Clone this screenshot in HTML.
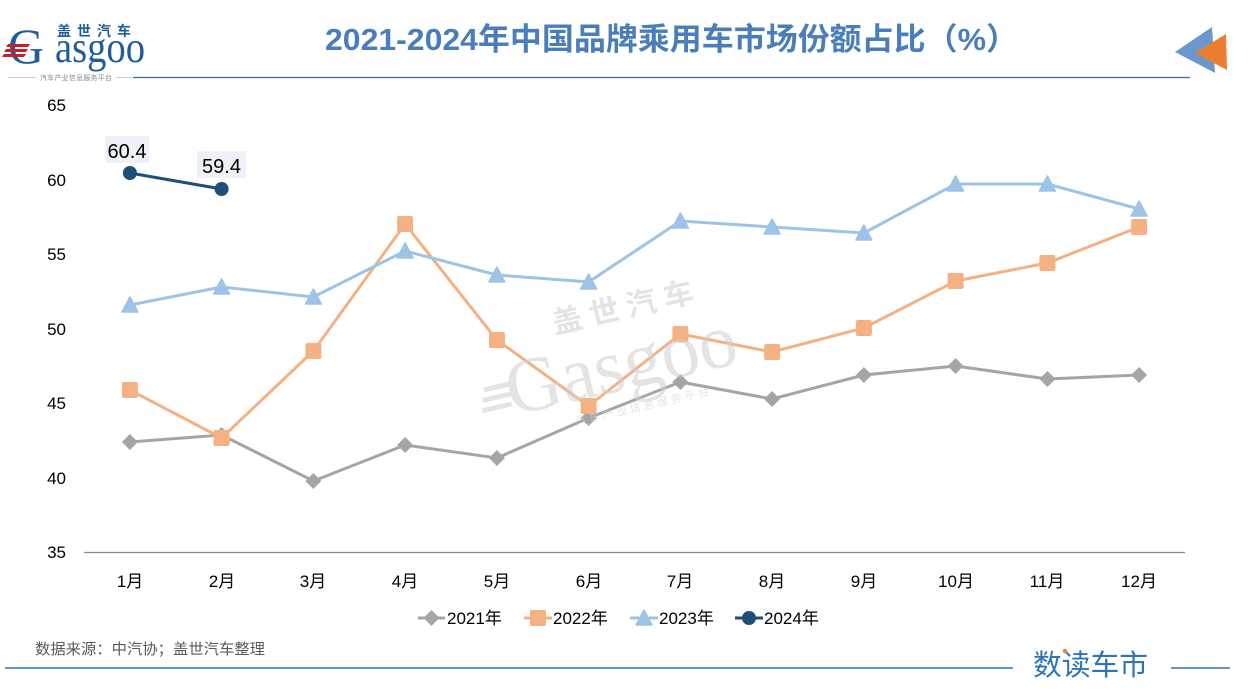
<!DOCTYPE html>
<html><head><meta charset="utf-8"><style>
html,body{margin:0;padding:0;background:#fff;}
svg{display:block;font-family:"Liberation Sans","Noto Sans CJK SC",sans-serif;}
</style></head><body>
<svg width="1260" height="700" viewBox="0 0 1260 700" xmlns="http://www.w3.org/2000/svg">
<!-- header logo -->
<g>
<text x="8" y="63" font-family="Liberation Serif, serif" font-size="50" fill="#1F5C99">G</text>
<polygon points="8,44 30,44 28,47 6,47" fill="#C8202A"/>
<polygon points="6,49 28,49 26,52 4,52" fill="#C8202A"/>
<polygon points="4,54 26,54 24,57 2,57" fill="#C8202A"/>
<text x="55" y="62" font-family="Liberation Serif, serif" font-size="44" fill="#1F5C99" textLength="90" lengthAdjust="spacingAndGlyphs">asgoo</text>
<text x="57" y="36" font-size="14" font-weight="bold" fill="#1F5C99" letter-spacing="6">盖世汽车</text>
<line x1="8" y1="77.5" x2="36" y2="77.5" stroke="#ccc" stroke-width="1"/>
<text x="40" y="80" font-size="7" fill="#888" textLength="72">汽车产业信息服务平台</text>
<line x1="116" y1="77.5" x2="132" y2="77.5" stroke="#ccc" stroke-width="1"/>
<line x1="133" y1="77.5" x2="1190" y2="77.5" stroke="#3A6EA5" stroke-width="1.3"/>
</g>
<!-- title -->
<text x="325" y="50" font-size="31" font-weight="bold" fill="#4A7EBB" textLength="693" lengthAdjust="spacingAndGlyphs">2021-2024年中国品牌乘用车市场份额占比（%）</text>
<!-- top right triangles -->
<polygon points="1175,52 1212,27 1215,73" fill="#6A98CC"/>
<polygon points="1195,53 1226,34 1227,70" fill="#ED7D31"/>

<!-- y axis labels -->
<g font-size="17" fill="#000" text-anchor="end">
<text x="66" y="111">65</text>
<text x="66" y="186">60</text>
<text x="66" y="260">55</text>
<text x="66" y="335">50</text>
<text x="66" y="409">45</text>
<text x="66" y="484">40</text>
<text x="66" y="558">35</text>
</g>
<line x1="84" y1="552.5" x2="1185" y2="552.5" stroke="#8C8C8C" stroke-width="1.2"/>
<!-- x labels -->
<g font-size="17" fill="#000" text-anchor="middle">
<text x="130" y="587">1月</text>
<text x="222" y="587">2月</text>
<text x="313" y="587">3月</text>
<text x="405" y="587">4月</text>
<text x="497" y="587">5月</text>
<text x="589" y="587">6月</text>
<text x="680" y="587">7月</text>
<text x="772" y="587">8月</text>
<text x="864" y="587">9月</text>
<text x="956" y="587">10月</text>
<text x="1047" y="587">11月</text>
<text x="1139" y="587">12月</text>
</g>

<defs>
<path id="dia" d="M0,-8 L8,0 L0,8 L-8,0 Z" fill="#A5A5A5"/>
<rect id="sq" x="-8" y="-8" width="16" height="16" rx="2" fill="#F4B183"/>
<path id="tri" d="M0,-8 L8,7 L-8,7 Z" fill="#9DC3E6" stroke="#9DC3E6" stroke-width="1.5" stroke-linejoin="round"/>
<circle id="cir" r="7" fill="#1F4E79"/>
</defs>

<!-- 2021 -->
<polyline fill="none" stroke="#A5A5A5" stroke-width="3" points="129.9,442 221.6,435 313.4,481 405.1,445 496.9,458 588.6,418 680.4,382 772.1,399 863.9,375 955.6,366 1047.4,379 1139.1,375"/>
<g>
<use href="#dia" x="129.9" y="442"/><use href="#dia" x="221.6" y="435"/><use href="#dia" x="313.4" y="481"/><use href="#dia" x="405.1" y="445"/><use href="#dia" x="496.9" y="458"/><use href="#dia" x="588.6" y="418"/><use href="#dia" x="680.4" y="382"/><use href="#dia" x="772.1" y="399"/><use href="#dia" x="863.9" y="375"/><use href="#dia" x="955.6" y="366"/><use href="#dia" x="1047.4" y="379"/><use href="#dia" x="1139.1" y="375"/>
</g>
<!-- 2022 -->
<polyline fill="none" stroke="#F4B183" stroke-width="3" points="129.9,390 221.6,438 313.4,351 405.1,224 496.9,340 588.6,406 680.4,334 772.1,352 863.9,328 955.6,281 1047.4,263 1139.1,227"/>
<g>
<use href="#sq" x="129.9" y="390"/><use href="#sq" x="221.6" y="438"/><use href="#sq" x="313.4" y="351"/><use href="#sq" x="405.1" y="224"/><use href="#sq" x="496.9" y="340"/><use href="#sq" x="588.6" y="406"/><use href="#sq" x="680.4" y="334"/><use href="#sq" x="772.1" y="352"/><use href="#sq" x="863.9" y="328"/><use href="#sq" x="955.6" y="281"/><use href="#sq" x="1047.4" y="263"/><use href="#sq" x="1139.1" y="227"/>
</g>
<!-- 2023 -->
<polyline fill="none" stroke="#9DC3E6" stroke-width="3" points="129.9,305 221.6,287 313.4,297 405.1,251 496.9,275 588.6,282 680.4,221 772.1,227 863.9,233 955.6,184 1047.4,184 1139.1,209"/>
<g>
<use href="#tri" x="129.9" y="305"/><use href="#tri" x="221.6" y="287"/><use href="#tri" x="313.4" y="297"/><use href="#tri" x="405.1" y="251"/><use href="#tri" x="496.9" y="275"/><use href="#tri" x="588.6" y="282"/><use href="#tri" x="680.4" y="221"/><use href="#tri" x="772.1" y="227"/><use href="#tri" x="863.9" y="233"/><use href="#tri" x="955.6" y="184"/><use href="#tri" x="1047.4" y="184"/><use href="#tri" x="1139.1" y="209"/>
</g>
<!-- 2024 -->
<polyline fill="none" stroke="#1F4E79" stroke-width="3" points="129.9,173 221.6,189"/>
<use href="#cir" x="129.9" y="173"/><use href="#cir" x="221.6" y="189"/>
<rect x="105" y="136" width="44" height="27" fill="#EEF1F8"/>
<text x="127" y="158" font-size="20" text-anchor="middle" fill="#000">60.4</text>
<rect x="197" y="151" width="49" height="27" fill="#EEF1F8"/>
<text x="221.5" y="173" font-size="20" text-anchor="middle" fill="#000">59.4</text>

<!-- watermark -->
<g transform="rotate(-13 610 350)" fill="#cfcfcf" opacity="0.55">
<text x="560" y="322" font-size="30" letter-spacing="8" font-weight="bold">盖世汽车</text>
<text x="500" y="392" font-family="Liberation Serif, serif" font-size="78" textLength="235" lengthAdjust="spacingAndGlyphs">Gasgoo</text>
<rect x="478" y="358" width="30" height="5"/>
<rect x="475" y="368" width="30" height="5"/>
<rect x="472" y="378" width="30" height="5"/>
<text x="560" y="416" font-size="11" letter-spacing="3">汽车产业信息服务平台</text>
</g>

<!-- legend -->
<g font-size="17" fill="#000">
<line x1="418" y1="618" x2="445" y2="618" stroke="#A5A5A5" stroke-width="3"/>
<use href="#dia" x="431.5" y="618"/>
<text x="447" y="624">2021年</text>
<line x1="524" y1="618" x2="552" y2="618" stroke="#F4B183" stroke-width="3"/>
<use href="#sq" x="538" y="618"/>
<text x="553" y="624">2022年</text>
<line x1="630" y1="618" x2="658" y2="618" stroke="#9DC3E6" stroke-width="3"/>
<use href="#tri" x="644" y="618"/>
<text x="659" y="624">2023年</text>
<line x1="735" y1="618" x2="763" y2="618" stroke="#1F4E79" stroke-width="3"/>
<use href="#cir" x="749" y="618"/>
<text x="764" y="624">2024年</text>
</g>

<!-- footer -->
<text x="35" y="654" font-size="15" fill="#595959" textLength="230" lengthAdjust="spacingAndGlyphs">数据来源：中汽协；盖世汽车整理</text>
<line x1="5" y1="668" x2="1013" y2="668" stroke="#2E75B6" stroke-width="1.5"/>
<line x1="1171" y1="668" x2="1230" y2="668" stroke="#2E75B6" stroke-width="1.5"/>
<text x="1033" y="675" font-size="29" fill="#2E75B6" textLength="115" lengthAdjust="spacingAndGlyphs">数读车市</text>
<circle cx="1065" cy="651" r="2.2" fill="#ED7D31"/>
</svg>
</body></html>
